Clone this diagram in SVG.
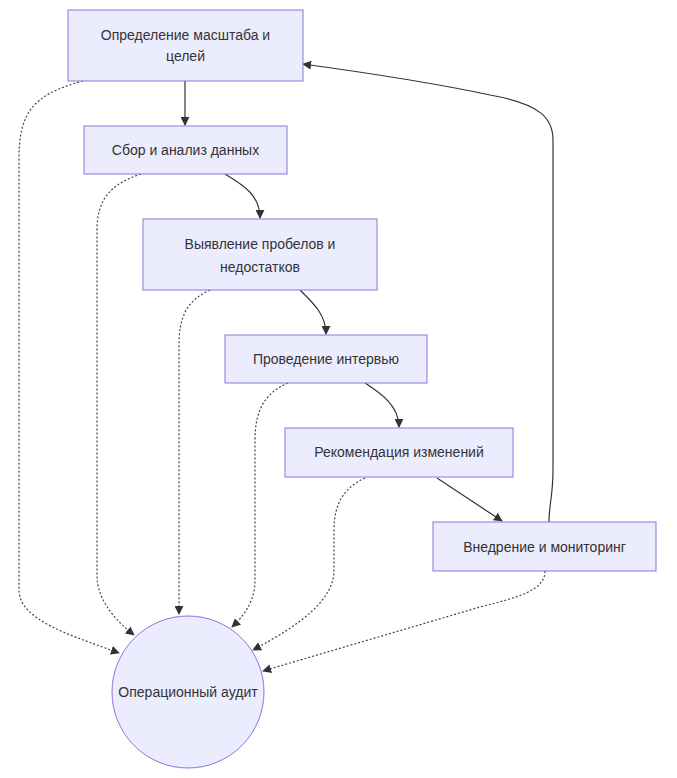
<svg xmlns="http://www.w3.org/2000/svg" width="677" height="778" viewBox="0 0 677 778">
<defs>
<style>
.node rect, .node circle { fill: #ECECFF; stroke: #9370DB; stroke-width: 1; }
.node text { font-family: "Liberation Sans", "DejaVu Sans", sans-serif; font-size: 14px; fill: #333333; text-anchor: middle; }
.edge { fill: none; stroke: #333333; stroke-width: 1.2; }
.dot { fill: none; stroke: #444444; stroke-width: 1.2; stroke-dasharray: 2 2; }
</style>
<marker id="arr" viewBox="0 0 10 10" refX="9" refY="5" markerWidth="9" markerHeight="9" markerUnits="userSpaceOnUse" orient="auto">
<path d="M0,0 L10,5 L0,10 z" fill="#333333"/>
</marker>
</defs>
<rect width="677" height="778" fill="#ffffff"/>
<g id="connectors">
<path class="edge" d="M185,81 L185,125" marker-end="url(#arr)"/>
<path class="edge" d="M225,174 C245,186 260,196 260,218" marker-end="url(#arr)"/>
<path class="edge" d="M300,290 C312,302 326,314 326,334" marker-end="url(#arr)"/>
<path class="edge" d="M365,383 C380,393 399,405 399,427" marker-end="url(#arr)"/>
<path class="edge" d="M437,478 L502,521" marker-end="url(#arr)"/>
<path class="edge" d="M549,522 C549,505 553,495 553,470 L553,140 C553,118 540,104 490,95 Q420,80 303,64" marker-end="url(#arr)"/>
<path class="dot" d="M83,81 C30,95 19,115 19,160 L19,590 C19,620 70,635 119,653" marker-end="url(#arr)"/>
<path class="dot" d="M141,174 C110,184 97,200 97,230 L97,575 C97,600 115,620 134,635" marker-end="url(#arr)"/>
<path class="dot" d="M210,290 C188,300 179,315 179,345 L179,614" marker-end="url(#arr)"/>
<path class="dot" d="M288,383 C265,393 255,410 255,440 L255,580 C255,600 245,615 232,627" marker-end="url(#arr)"/>
<path class="dot" d="M365,478 C343,488 334,505 334,530 L334,570 C334,600 300,625 253,650" marker-end="url(#arr)"/>
<path class="dot" d="M545,571 C545,590 520,597 480,607 L263,671" marker-end="url(#arr)"/>
</g>
<g id="n1" class="node">
<rect x="68" y="10" width="235" height="71"/>
<text x="185.5" y="40">Определение масштаба и</text>
<text x="185.5" y="61">целей</text>
</g>
<g id="n2" class="node">
<rect x="84" y="126" width="203" height="48"/>
<text x="185.5" y="155">Сбор и анализ данных</text>
</g>
<g id="n3" class="node">
<rect x="143" y="219" width="234" height="71"/>
<text x="260" y="249">Выявление пробелов и</text>
<text x="260" y="272">недостатков</text>
</g>
<g id="n4" class="node">
<rect x="225" y="335" width="202" height="48"/>
<text x="326" y="364">Проведение интервью</text>
</g>
<g id="n5" class="node">
<rect x="285" y="428" width="228" height="49"/>
<text x="399" y="457">Рекомендация изменений</text>
</g>
<g id="n6" class="node">
<rect x="433" y="522" width="223" height="49"/>
<text x="544.5" y="552">Внедрение и мониторинг</text>
</g>
<g id="n7" class="node">
<circle cx="188" cy="692" r="76"/>
<text x="188" y="697">Операционный аудит</text>
</g>
</svg>
